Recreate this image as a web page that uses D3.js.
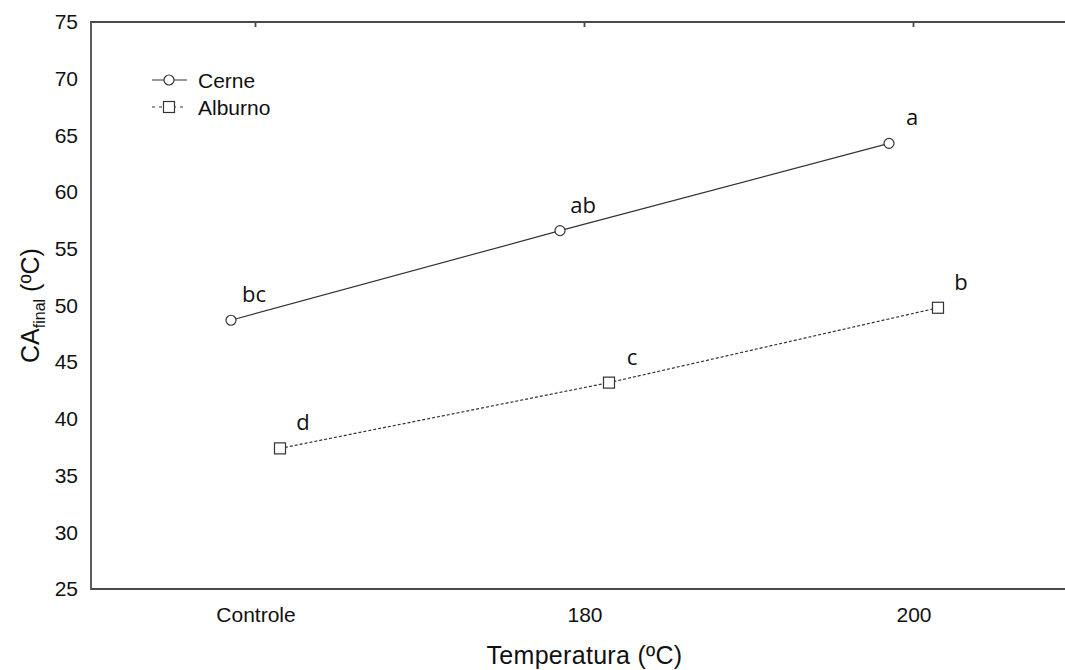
<!DOCTYPE html>
<html lang="pt">
<head>
<meta charset="UTF-8">
<title>CA final</title>
<script src="https://cdn.jsdelivr.net/npm/d3@7"></script>
<style>
  body { margin: 0; background: #fff; }
  text { font-family: "Liberation Sans", Arial, sans-serif; fill: #111; }
  .letra { font-family: "Open Sans", "Liberation Sans", sans-serif; }
</style>
</head>
<body>
<script>
const categorias = ["Controle", "180", "200"];
const cerne = [48.7, 56.6, 64.3];
const alburno = [37.4, 43.2, 49.8];
const letrasCerne = ["bc", "ab", "a"];
const letrasAlburno = ["d", "c", "b"];
const yTicks = [25, 30, 35, 40, 45, 50, 55, 60, 65, 70, 75];

const width = 1065, height = 670;
const marginLeft = 91, marginTop = 22, marginBottom = 81;
const step = 329;

const svg = d3.select("body").append("svg")
  .attr("width", width).attr("height", height);

const x = d3.scalePoint()
  .domain(categorias)
  .range([marginLeft + step / 2, marginLeft + step * 2.5]);

const y = d3.scaleLinear()
  .domain([25, 75])
  .range([height - marginBottom, marginTop]);

const offset = 24.5;

// moldura
svg.append("path")
  .attr("d", `M${width + 5},${marginTop}H${marginLeft}V${y(25)}H${width + 5}`)
  .attr("fill", "none")
  .attr("stroke", "#4a4a4a")
  .attr("stroke-width", 1.8);

// marcas no topo
svg.selectAll(".topTick").data(categorias).enter().append("line")
  .attr("x1", d => x(d)).attr("x2", d => x(d))
  .attr("y1", marginTop).attr("y2", marginTop + 5)
  .attr("stroke", "#4a4a4a").attr("stroke-width", 1.8);

// eixo y
const yAxis = svg.append("g")
  .attr("transform", `translate(${marginLeft},0)`)
  .call(d3.axisLeft(y).tickValues(yTicks).tickSize(0).tickPadding(13));
yAxis.select(".domain").remove();
yAxis.selectAll("text")
  .style("font-size", "21px")
  .attr("fill", "#111")
  .style("font-family", "'Liberation Sans', Arial, sans-serif");

// eixo x
const xAxis = svg.append("g")
  .attr("transform", `translate(0,${y(25)})`)
  .call(d3.axisBottom(x).tickSize(0).tickPadding(18));
xAxis.select(".domain").remove();
xAxis.selectAll("text")
  .style("font-size", "21px")
  .attr("fill", "#111")
  .style("font-family", "'Liberation Sans', Arial, sans-serif");

// títulos
svg.append("text")
  .attr("x", x("180")).attr("y", 664)
  .attr("text-anchor", "middle")
  .style("font-size", "25px")
  .style("letter-spacing", "0.3px")
  .text("Temperatura (ºC)");

const yTitle = svg.append("text")
  .attr("transform", `translate(39,${(marginTop + y(25)) / 2}) rotate(-90)`)
  .attr("text-anchor", "middle")
  .style("font-size", "25px");
yTitle.append("tspan").text("CA");
yTitle.append("tspan").attr("dy", 6).style("font-size", "16px").text("final");
yTitle.append("tspan").attr("dy", -6).text(" (ºC)");

// linhas
const lineCerne = d3.line()
  .x((d, i) => x(categorias[i]) - offset)
  .y(d => y(d));
const lineAlburno = d3.line()
  .x((d, i) => x(categorias[i]) + offset)
  .y(d => y(d));

svg.append("path")
  .attr("d", lineCerne(cerne))
  .attr("fill", "none").attr("stroke", "#333").attr("stroke-width", 1.2);

svg.append("path")
  .attr("d", lineAlburno(alburno))
  .attr("fill", "none").attr("stroke", "#333").attr("stroke-width", 1.2)
  .attr("stroke-dasharray", "3,2");

svg.selectAll(".ptCerne").data(cerne).enter().append("circle")
  .attr("cx", (d, i) => x(categorias[i]) - offset)
  .attr("cy", d => y(d))
  .attr("r", 5)
  .attr("fill", "#fff").attr("stroke", "#333").attr("stroke-width", 1.2);

svg.selectAll(".ptAlburno").data(alburno).enter().append("rect")
  .attr("x", (d, i) => x(categorias[i]) + offset - 5.5)
  .attr("y", d => y(d) - 5.5)
  .attr("width", 11).attr("height", 11)
  .attr("fill", "#fff").attr("stroke", "#333").attr("stroke-width", 1.2);

// letras
svg.selectAll(".lCerne").data(cerne).enter().append("text")
  .attr("class", "letra")
  .attr("x", (d, i) => x(categorias[i]) - offset + 23)
  .attr("y", d => y(d) - 18)
  .attr("text-anchor", "middle")
  .style("font-size", "22px")
  .text((d, i) => letrasCerne[i]);

svg.selectAll(".lAlburno").data(alburno).enter().append("text")
  .attr("class", "letra")
  .attr("x", (d, i) => x(categorias[i]) + offset + 23)
  .attr("y", d => y(d) - 18)
  .attr("text-anchor", "middle")
  .style("font-size", "22px")
  .text((d, i) => letrasAlburno[i]);

// legenda
const legend = svg.append("g").attr("transform", "translate(152,80)");
legend.append("line").attr("x1", 0).attr("x2", 35).attr("y1", 0).attr("y2", 0)
  .attr("stroke", "#333").attr("stroke-width", 1.2);
legend.append("circle").attr("cx", 17).attr("cy", 0).attr("r", 5)
  .attr("fill", "#fff").attr("stroke", "#333").attr("stroke-width", 1.2);
legend.append("text").attr("x", 46).attr("y", 7.5).style("font-size", "21px").text("Cerne");

legend.append("line").attr("x1", 0).attr("x2", 35).attr("y1", 27).attr("y2", 27)
  .attr("stroke", "#333").attr("stroke-width", 1.2).attr("stroke-dasharray", "3,4");
legend.append("rect").attr("x", 11.5).attr("y", 21.5).attr("width", 11).attr("height", 11)
  .attr("fill", "#fff").attr("stroke", "#333").attr("stroke-width", 1.2);
legend.append("text").attr("x", 46).attr("y", 34.5).style("font-size", "21px").text("Alburno");
</script>
</body>
</html>
